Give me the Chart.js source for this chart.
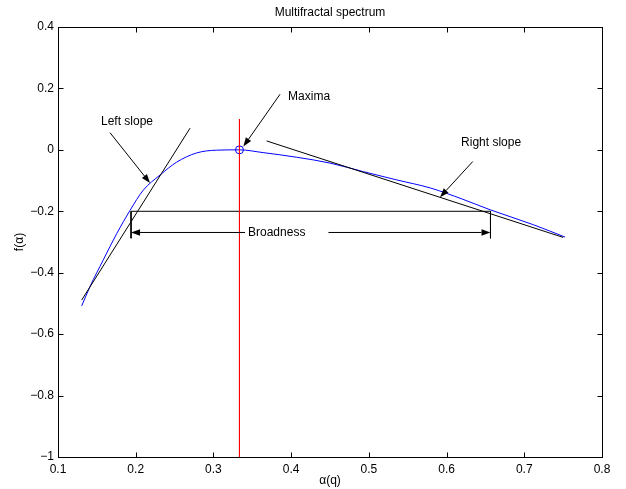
<!DOCTYPE html>
<html>
<head>
<meta charset="utf-8">
<script src="https://cdn.jsdelivr.net/npm/chart.js@4/dist/chart.umd.min.js"></script>
<style>
html,body{margin:0;padding:0;background:#fff;}
#c{display:block;}
</style>
</head>
<body>
<canvas id="c" width="626" height="489"></canvas>
<script>
// ---- data ----
const alpha = [0.1305, 0.1412, 0.1583, 0.1755, 0.1927, 0.2098, 0.2313, 0.2527, 0.2784, 0.304, 0.3335, 0.364, 0.407, 0.450, 0.493, 0.536, 0.579, 0.620, 0.656, 0.712, 0.7525];
const fAlpha = [-0.508, -0.445, -0.358, -0.273, -0.197, -0.131, -0.082, -0.040, -0.010, -0.001, 0, -0.009, -0.024, -0.043, -0.071, -0.098, -0.124, -0.160, -0.195, -0.244, -0.284];
const maxPoint = [0.3335, 0];
const leftSlopeX = [0.1305, 0.2699], leftSlopeY = [-0.489, 0.0706];
const rightSlopeX = [0.3685, 0.750], rightSlopeY = [0.029, -0.285];
const redLineX = [0.3335, 0.3335], redLineY = [0.1, -1];
const broadX = [0.194, 0.6565], broadY = -0.2, broadTickBottom = -0.288;
const xTicks = [0.1, 0.2, 0.3, 0.4, 0.5, 0.6, 0.7, 0.8];
const yTicks = [-1, -0.8, -0.6, -0.4, -0.2, 0, 0.2, 0.4];
// arrows: [x from, y from, x to (head), y to (head)]
const arrows = [
  [0.1669, 0.056, 0.2184, -0.108],   // Left slope
  [0.3857, 0.181, 0.3385, 0.0107],   // Maxima
  [0.6337, -0.038, 0.5916, -0.154],  // Right slope
  [0.3407, -0.269, 0.194, -0.269],   // Broadness left
  [0.448, -0.269, 0.6565, -0.269]    // Broadness right
];
// labels: [text, x, y]
const labels = [
  ["Left slope", 0.1553, 0.091],
  ["Maxima", 0.3961, 0.174],
  ["Right slope", 0.6187, 0.022],
  ["Broadness", 0.3445, -0.269]
];
const titleText = "Multifractal spectrum";
const xLabel = "\u03b1(q)";
const yLabel = "f(\u03b1)";

const FONT = '"Liberation Sans", Arial, Helvetica, sans-serif';
const fmt = v => {
  const n = Math.round(v * 10) / 10;
  return String(n).replace('-', '\u2212');
};
const pts = (xs, ys) => xs.map((x, i) => ({x: x, y: ys[i]}));

const deco = {
  id: 'deco',
  afterDatasetsDraw(chart) {
    const ctx = chart.ctx, xs = chart.scales.x, ys = chart.scales.y, a = chart.chartArea;
    ctx.save();
    // box
    ctx.strokeStyle = '#000'; ctx.lineWidth = 1;
    const L = Math.round(a.left) + 0.5, R = Math.round(a.right) + 0.5, T = Math.round(a.top) + 0.5, B = Math.round(a.bottom) + 0.5;
    ctx.strokeRect(L, T, R - L, B - T);
    // inward ticks
    ctx.beginPath();
    xTicks.forEach(v => {
      const px = Math.round(xs.getPixelForValue(v)) + 0.5;
      ctx.moveTo(px, B); ctx.lineTo(px, B - 5);
      ctx.moveTo(px, T); ctx.lineTo(px, T + 5);
    });
    yTicks.forEach(v => {
      const py = Math.round(ys.getPixelForValue(v)) + 0.5;
      ctx.moveTo(L, py); ctx.lineTo(L + 5, py);
      ctx.moveTo(R, py); ctx.lineTo(R - 5, py);
    });
    ctx.stroke();
    // arrows
    arrows.forEach(ar => {
      const x1 = xs.getPixelForValue(ar[0]), y1 = ys.getPixelForValue(ar[1]);
      const x2 = xs.getPixelForValue(ar[2]), y2 = ys.getPixelForValue(ar[3]);
      const ang = Math.atan2(y2 - y1, x2 - x1);
      const hl = 9, hw = 3.2;
      const bx = x2 - hl * Math.cos(ang), by = y2 - hl * Math.sin(ang);
      ctx.beginPath(); ctx.moveTo(x1, y1); ctx.lineTo(bx, by); ctx.stroke();
      ctx.beginPath();
      ctx.moveTo(x2, y2);
      ctx.lineTo(bx + hw * Math.sin(ang), by - hw * Math.cos(ang));
      ctx.lineTo(bx - hw * Math.sin(ang), by + hw * Math.cos(ang));
      ctx.closePath(); ctx.fillStyle = '#000'; ctx.fill();
    });
    // labels
    ctx.fillStyle = '#000';
    ctx.font = '12px ' + FONT;
    ctx.textAlign = 'left'; ctx.textBaseline = 'middle';
    labels.forEach(l => ctx.fillText(l[0], xs.getPixelForValue(l[1]), ys.getPixelForValue(l[2])));
    // title & axis labels
    ctx.textAlign = 'center';
    const cx = (a.left + a.right) / 2, cy = (a.top + a.bottom) / 2;
    ctx.fillText(titleText, cx, 13);
    ctx.fillText(xLabel, cx, 481);
    ctx.translate(20, cy); ctx.rotate(-Math.PI / 2);
    ctx.fillText(yLabel, 0, 0);
    ctx.restore();
  }
};

const lineDs = (data, color) => ({data, showLine: true, borderColor: color, borderWidth: 1, pointRadius: 0, fill: false, tension: 0, clip: false});

new Chart(document.getElementById('c'), {
  type: 'line',
  data: {
    datasets: [
      lineDs(pts(redLineX, redLineY), '#ff0000'),
      lineDs(pts(leftSlopeX, leftSlopeY), '#000000'),
      lineDs(pts(rightSlopeX, rightSlopeY), '#000000'),
      lineDs(pts(broadX, [broadY, broadY]), '#000000'),
      lineDs(pts([broadX[0], broadX[0]], [broadY, broadTickBottom]), '#000000'),
      lineDs(pts([broadX[1], broadX[1]], [broadY, broadTickBottom]), '#000000'),
      Object.assign(lineDs(pts(alpha, fAlpha), '#0000ff'), {cubicInterpolationMode: 'monotone'}),
      {data: [{x: maxPoint[0], y: maxPoint[1]}], showLine: false, pointRadius: 4, pointStyle: 'circle', borderColor: '#0000ff', backgroundColor: 'rgba(0,0,0,0)', borderWidth: 1, clip: false}
    ]
  },
  options: {
    responsive: false,
    animation: false,
    devicePixelRatio: 1,
    layout: {padding: {left: 0, top: 27, right: 24, bottom: 0}},
    plugins: {legend: {display: false}, tooltip: {enabled: false}, title: {display: false}},
    scales: {
      x: {
        type: 'linear', min: 0.1, max: 0.8,
        afterBuildTicks: s => { s.ticks = xTicks.map(v => ({value: v})); },
        afterFit: s => { s.height = 32; },
        ticks: {callback: fmt, color: '#000', font: {size: 12, family: FONT}, padding: 5, maxRotation: 0, autoSkip: false},
        grid: {display: false, drawTicks: false},
        border: {display: false}
      },
      y: {
        type: 'linear', min: -1, max: 0.4,
        afterBuildTicks: s => { s.ticks = yTicks.map(v => ({value: v})); },
        afterFit: s => { s.width = 58; },
        ticks: {callback: fmt, color: '#000', font: {size: 12, family: FONT}, padding: 4, autoSkip: false},
        grid: {display: false, drawTicks: false},
        border: {display: false}
      }
    }
  },
  plugins: [deco]
});
</script>
</body>
</html>
